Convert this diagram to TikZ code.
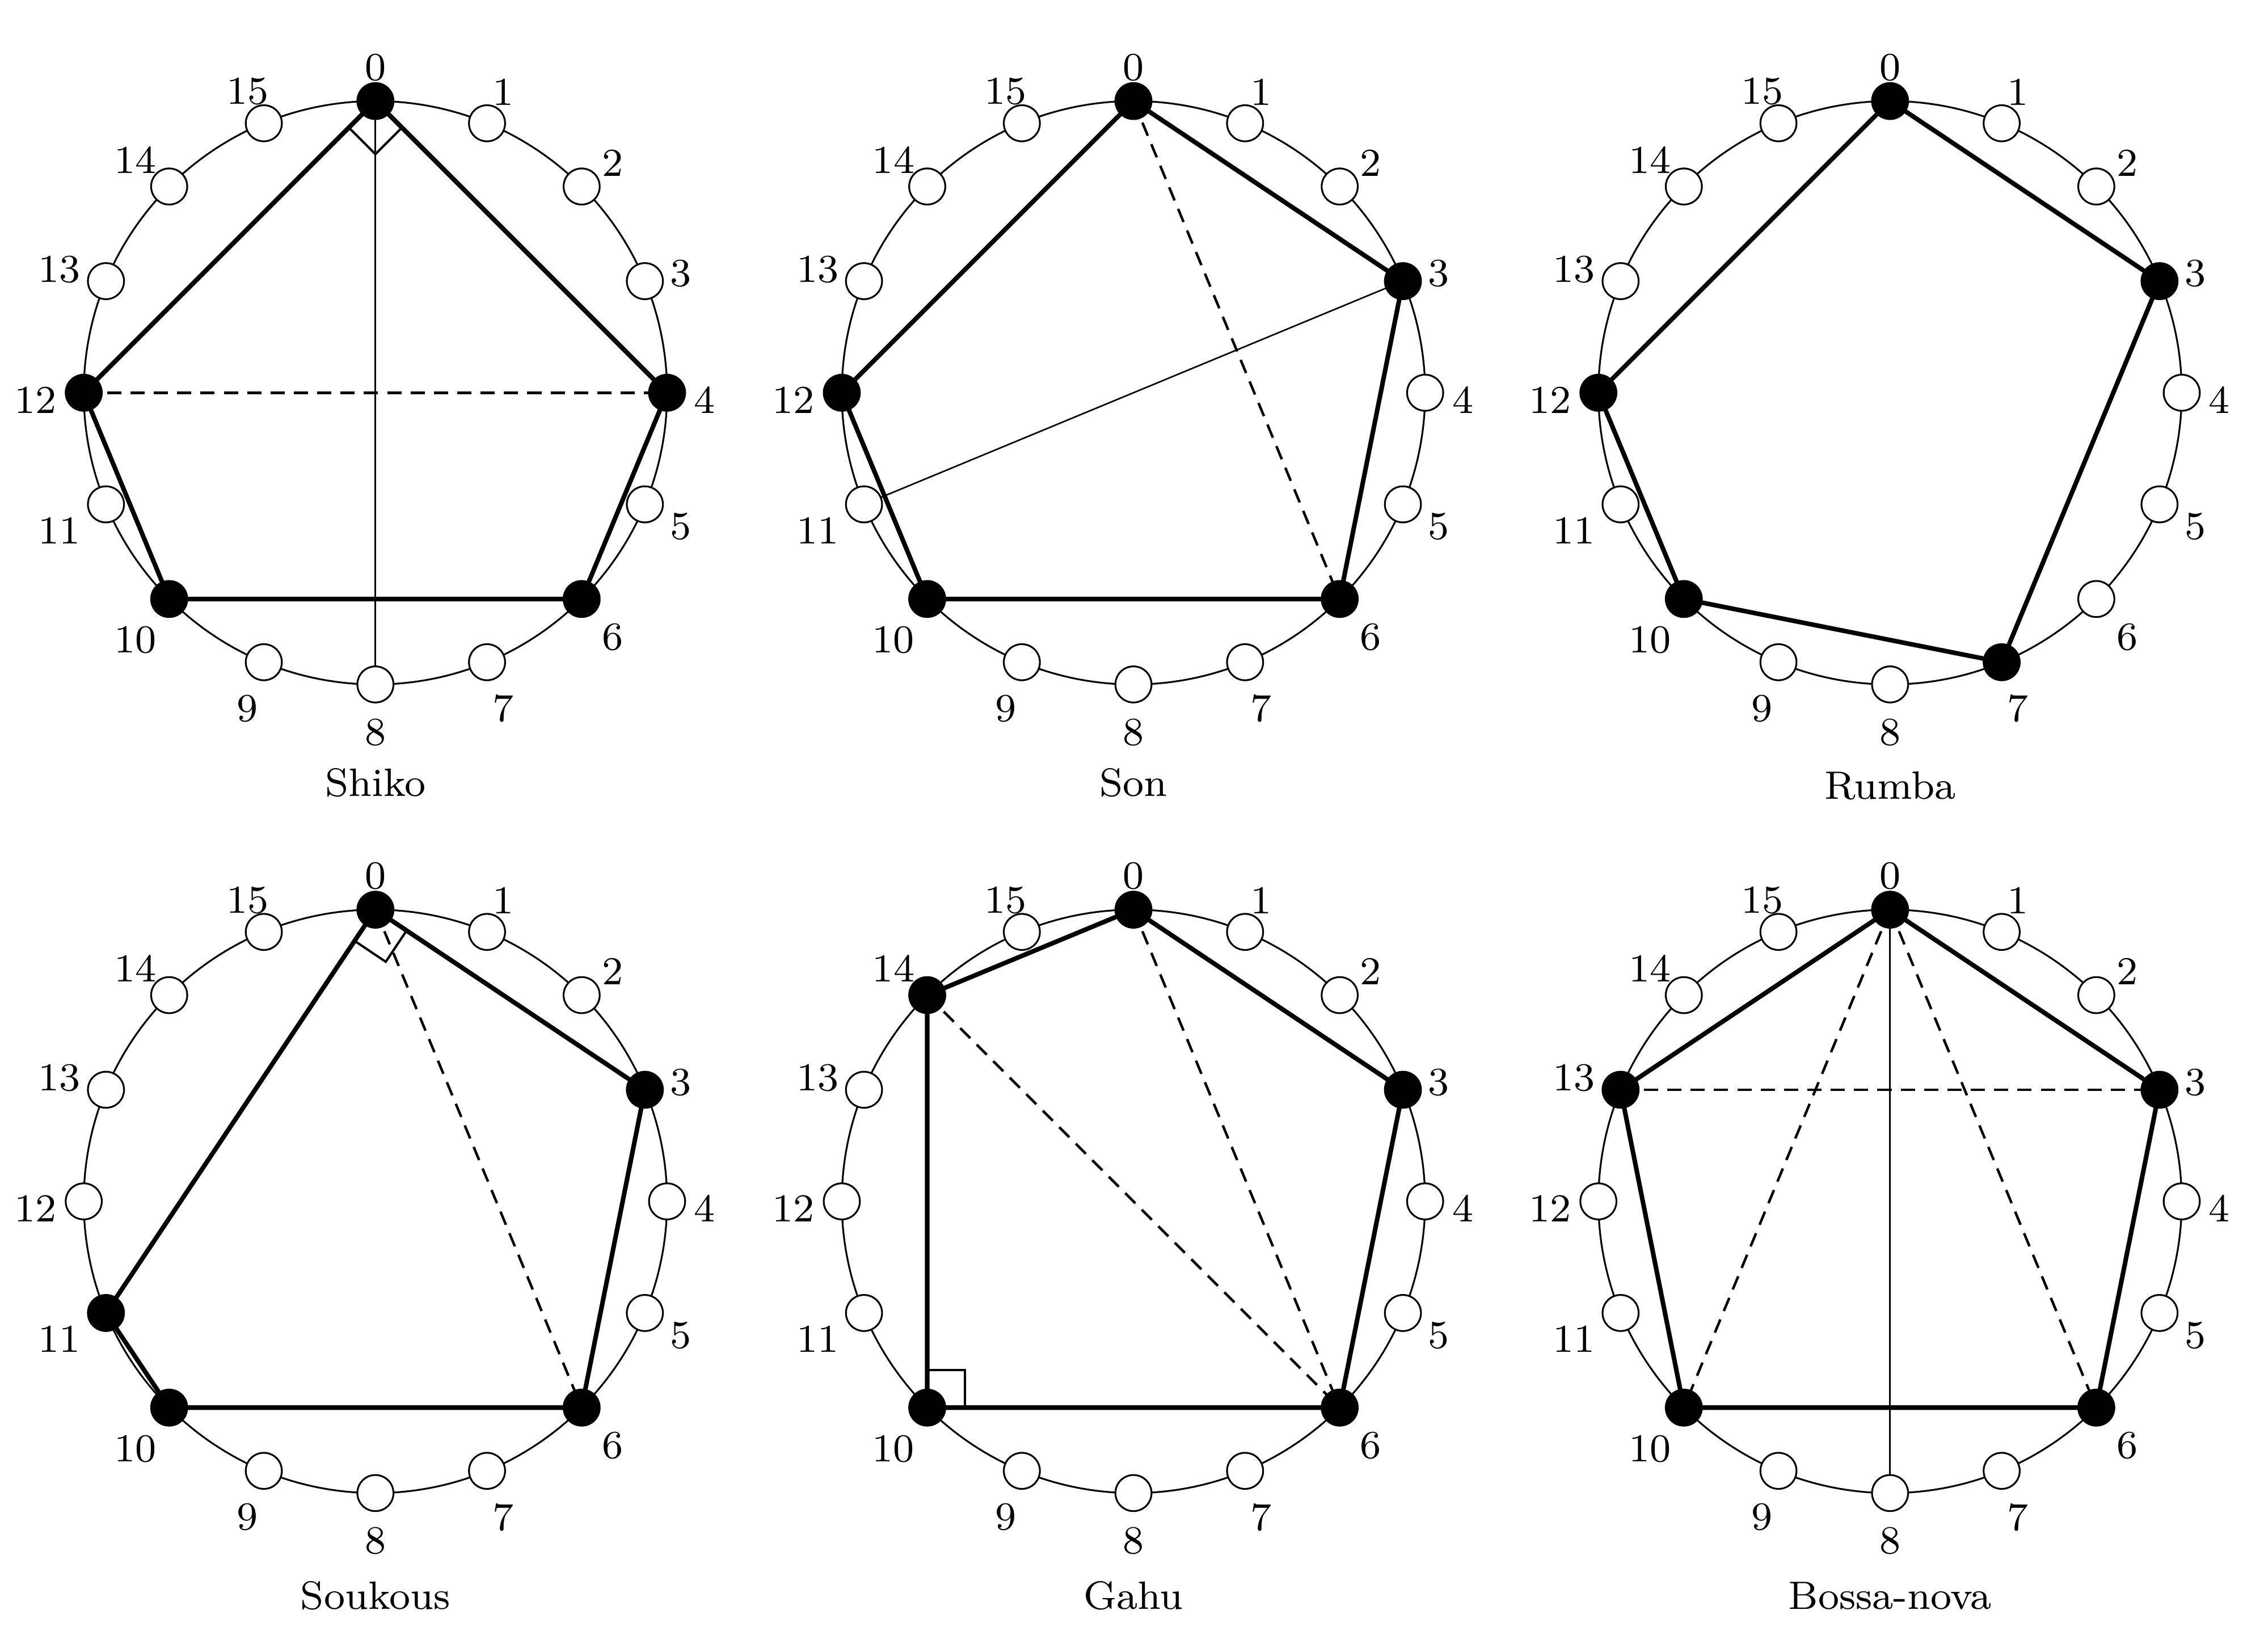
\documentclass[tikz,border=0pt]{standalone}
\usepackage{tikz}
\usetikzlibrary{calc,backgrounds}
\tikzset{
  wheel/.style  = {draw, line width=0.35pt},
  beat/.style   = {circle, draw, line width=0.35pt, fill=white, minimum size=2.5mm, inner sep=0pt},
  onset/.style  = {beat, fill=black},
  num/.style    = {font=\fontsize{7.8}{9}\selectfont, inner sep=0.6pt, yshift=-0.5mm},
  title/.style  = {font=\fontsize{7.8}{9}\selectfont},
  edge/.style   = {line width=0.9pt, line join=round},
  chord/.style  = {line width=0.5pt, dash pattern=on 2.8pt off 1.8pt},
  guide/.style  = {line width=0.3pt},
  rangle/.style = {line width=0.45pt},
}

\begin{document}
\begin{tikzpicture}
\useasboundingbox (0,0) rectangle (15.68,-11.44);

% Shiko
\begin{scope}[shift={(2.60,-2.72)}]
  \foreach \i in {1,2,3,5,7,8,9,11,13,14,15}
    \node[beat] (shk\i) at ({90-22.5*\i}:2.02) {};
  \foreach \i in {0,4,6,10,12}
    \node[onset] (shk\i) at ({90-22.5*\i}:2.02) {};
  \foreach \i [evaluate=\i as \a using 90-22.5*\i, evaluate=\i as \b using 270-22.5*\i] in {0,...,15}
    \node[num, anchor=\b] (shk-n\i) at (\a:2.18) {\i};
  \node[title] (shk-name) at (0,-2.70) {Shiko};
  \coordinate (shk-a) at ($(shk0.center)!2.6mm!(shk4.center)$);
  \coordinate (shk-b) at ($(shk0.center)!2.6mm!(shk12.center)$);
  \begin{scope}[on background layer]
    \draw[wheel] (0,0) circle (2.02);
    \draw[guide] (shk0.center) -- (shk8.center);
    \draw[chord] (shk12.center) -- (shk4.center);
    \draw[rangle] (shk-a) -- ($(shk-a)+(shk-b)-(shk0.center)$) -- (shk-b);
    \draw[edge] (shk0.center) -- (shk4.center) -- (shk6.center) -- (shk10.center) -- (shk12.center) -- cycle;
  \end{scope}
\end{scope}

% Son
\begin{scope}[shift={(7.85,-2.72)}]
  \foreach \i in {1,2,4,5,7,8,9,11,13,14,15}
    \node[beat] (son\i) at ({90-22.5*\i}:2.02) {};
  \foreach \i in {0,3,6,10,12}
    \node[onset] (son\i) at ({90-22.5*\i}:2.02) {};
  \foreach \i [evaluate=\i as \a using 90-22.5*\i, evaluate=\i as \b using 270-22.5*\i] in {0,...,15}
    \node[num, anchor=\b] (son-n\i) at (\a:2.18) {\i};
  \node[title] (son-name) at (0,-2.70) {Son};
  \begin{scope}[on background layer]
    \draw[wheel] (0,0) circle (2.02);
    \draw[guide] (son11.center) -- (son3.center);
    \draw[chord] (son0.center) -- (son6.center);
    \draw[edge] (son0.center) -- (son3.center) -- (son6.center) -- (son10.center) -- (son12.center) -- cycle;
  \end{scope}
\end{scope}

% Rumba
\begin{scope}[shift={(13.09,-2.72)}]
  \foreach \i in {1,2,4,5,6,8,9,11,13,14,15}
    \node[beat] (rum\i) at ({90-22.5*\i}:2.02) {};
  \foreach \i in {0,3,7,10,12}
    \node[onset] (rum\i) at ({90-22.5*\i}:2.02) {};
  \foreach \i [evaluate=\i as \a using 90-22.5*\i, evaluate=\i as \b using 270-22.5*\i] in {0,...,15}
    \node[num, anchor=\b] (rum-n\i) at (\a:2.18) {\i};
  \node[title] (rum-name) at (0,-2.72) {Rumba};
  \begin{scope}[on background layer]
    \draw[wheel] (0,0) circle (2.02);
    \draw[edge] (rum0.center) -- (rum3.center) -- (rum7.center) -- (rum10.center) -- (rum12.center) -- cycle;
  \end{scope}
\end{scope}

% Soukous
\begin{scope}[shift={(2.60,-8.32)}]
  \foreach \i in {1,2,4,5,7,8,9,12,13,14,15}
    \node[beat] (sou\i) at ({90-22.5*\i}:2.02) {};
  \foreach \i in {0,3,6,10,11}
    \node[onset] (sou\i) at ({90-22.5*\i}:2.02) {};
  \foreach \i [evaluate=\i as \a using 90-22.5*\i, evaluate=\i as \b using 270-22.5*\i] in {0,...,15}
    \node[num, anchor=\b] (sou-n\i) at (\a:2.18) {\i};
  \node[title] (sou-name) at (0,-2.73) {Soukous};
  \coordinate (sou-a) at ($(sou0.center)!2.6mm!(sou3.center)$);
  \coordinate (sou-b) at ($(sou0.center)!2.6mm!(sou11.center)$);
  \begin{scope}[on background layer]
    \draw[wheel] (0,0) circle (2.02);
    \draw[chord] (sou0.center) -- (sou6.center);
    \draw[rangle] (sou-a) -- ($(sou-a)+(sou-b)-(sou0.center)$) -- (sou-b);
    \draw[edge] (sou0.center) -- (sou3.center) -- (sou6.center) -- (sou10.center) -- (sou11.center) -- cycle;
  \end{scope}
\end{scope}

% Gahu
\begin{scope}[shift={(7.85,-8.32)}]
  \foreach \i in {1,2,4,5,7,8,9,11,12,13,15}
    \node[beat] (gah\i) at ({90-22.5*\i}:2.02) {};
  \foreach \i in {0,3,6,10,14}
    \node[onset] (gah\i) at ({90-22.5*\i}:2.02) {};
  \foreach \i [evaluate=\i as \a using 90-22.5*\i, evaluate=\i as \b using 270-22.5*\i] in {0,...,15}
    \node[num, anchor=\b] (gah-n\i) at (\a:2.18) {\i};
  \node[title] (gah-name) at (0,-2.73) {Gahu};
  \coordinate (gah-a) at ($(gah10.center)!2.6mm!(gah14.center)$);
  \coordinate (gah-b) at ($(gah10.center)!2.6mm!(gah6.center)$);
  \begin{scope}[on background layer]
    \draw[wheel] (0,0) circle (2.02);
    \draw[chord] (gah14.center) -- (gah6.center);
    \draw[chord] (gah0.center) -- (gah6.center);
    \draw[rangle] (gah-a) -- ($(gah-a)+(gah-b)-(gah10.center)$) -- (gah-b);
    \draw[edge] (gah0.center) -- (gah3.center) -- (gah6.center) -- (gah10.center) -- (gah14.center) -- cycle;
  \end{scope}
\end{scope}

% Bossa-nova
\begin{scope}[shift={(13.09,-8.32)}]
  \foreach \i in {1,2,4,5,7,8,9,11,12,14,15}
    \node[beat] (bos\i) at ({90-22.5*\i}:2.02) {};
  \foreach \i in {0,3,6,10,13}
    \node[onset] (bos\i) at ({90-22.5*\i}:2.02) {};
  \foreach \i [evaluate=\i as \a using 90-22.5*\i, evaluate=\i as \b using 270-22.5*\i] in {0,...,15}
    \node[num, anchor=\b] (bos-n\i) at (\a:2.18) {\i};
  \node[title] (bos-name) at (0,-2.73) {Bossa-nova};
  \begin{scope}[on background layer]
    \draw[wheel] (0,0) circle (2.02);
    \draw[guide] (bos0.center) -- (bos8.center);
    \draw[chord] (bos13.center) -- (bos3.center);
    \draw[chord] (bos0.center) -- (bos10.center);
    \draw[chord] (bos0.center) -- (bos6.center);
    \draw[edge] (bos0.center) -- (bos3.center) -- (bos6.center) -- (bos10.center) -- (bos13.center) -- cycle;
  \end{scope}
\end{scope}

\end{tikzpicture}
\end{document}
